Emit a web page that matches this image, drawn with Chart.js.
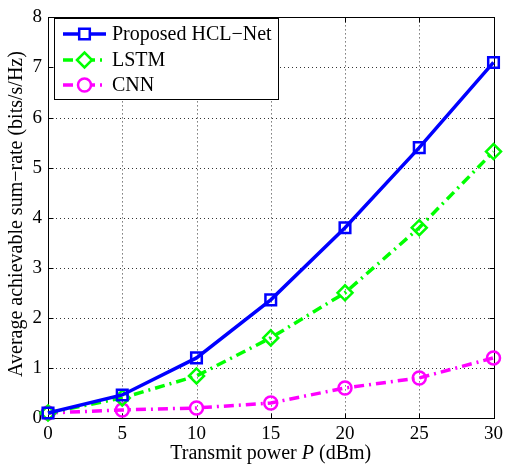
<!DOCTYPE html>
<html>
<head>
<meta charset="utf-8">
<script src="https://cdn.jsdelivr.net/npm/chart.js@4"></script>
<style>
  html, body { margin: 0; padding: 0; background: #fff; }
  #wrap { width: 508px; height: 466px; }
</style>
</head>
<body>
<div id="wrap"><canvas id="c" width="508" height="466"></canvas></div>
<script>
// Transmit power (dBm)
const powers = [0, 5, 10, 15, 20, 25, 30];
// Average achievable sum-rate (bits/s/Hz)
const hclNet = [0.1, 0.46, 1.2, 2.36, 3.8, 5.4, 7.1];
const lstm   = [0.1, 0.4, 0.84, 1.6, 2.5, 3.8, 5.32];
const cnn    = [0.1, 0.16, 0.2, 0.3, 0.6, 0.8, 1.2];
const seriesNames = ['Proposed HCL\u2212Net', 'LSTM', 'CNN'];
const xTicks = [0, 5, 10, 15, 20, 25, 30];
const yTicks = [0, 1, 2, 3, 4, 5, 6, 7, 8];

const FONT = '"Liberation Serif", "Times New Roman", serif';

function pts(ys) { return powers.map((p, i) => ({ x: p, y: ys[i] })); }

// Frame, dotted grid and inward tick marks
const framePlugin = {
  id: 'frame',
  beforeDatasetsDraw(chart) {
    const { ctx, chartArea: a, scales: { x, y } } = chart;
    ctx.save();
    ctx.strokeStyle = '#333';
    ctx.lineWidth = 1;
    ctx.setLineDash([1, 3]);
    xTicks.forEach(v => {
      if (v === 0 || v === 30) return;
      const px = Math.round(x.getPixelForValue(v)) + 0.5;
      ctx.beginPath(); ctx.moveTo(px, a.top); ctx.lineTo(px, a.bottom); ctx.stroke();
    });
    yTicks.forEach(v => {
      if (v === 0 || v === 8) return;
      const py = Math.round(y.getPixelForValue(v)) + 0.5;
      ctx.beginPath(); ctx.moveTo(a.left, py); ctx.lineTo(a.right, py); ctx.stroke();
    });
    ctx.setLineDash([]);
    ctx.strokeStyle = '#000';
    const L = Math.round(a.left) + 0.5, R = Math.round(a.right) + 0.5;
    const T = Math.round(a.top) + 0.5, B = Math.round(a.bottom) + 0.5;
    ctx.strokeRect(L, T, R - L, B - T);
    const tl = 5;
    xTicks.forEach(v => {
      const px = Math.round(x.getPixelForValue(v)) + 0.5;
      ctx.beginPath();
      ctx.moveTo(px, B); ctx.lineTo(px, B - tl);
      ctx.moveTo(px, T); ctx.lineTo(px, T + tl);
      ctx.stroke();
    });
    yTicks.forEach(v => {
      const py = Math.round(y.getPixelForValue(v)) + 0.5;
      ctx.beginPath();
      ctx.moveTo(L, py); ctx.lineTo(L + tl, py);
      ctx.moveTo(R, py); ctx.lineTo(R - tl, py);
      ctx.stroke();
    });
    ctx.restore();
  }
};

// Axis titles (x title has an italic P)
const titlesPlugin = {
  id: 'titles',
  afterDraw(chart) {
    const { ctx, chartArea: a } = chart;
    ctx.save();
    ctx.fillStyle = '#000';
    ctx.textBaseline = 'middle';
    const parts = [
      { t: 'Transmit power ', f: '20px ' + FONT },
      { t: 'P', f: 'italic 20px ' + FONT },
      { t: ' (dBm)', f: '20px ' + FONT }
    ];
    let w = 0;
    parts.forEach(p => { ctx.font = p.f; w += ctx.measureText(p.t).width; });
    let cx = (a.left + a.right) / 2 - w / 2;
    parts.forEach(p => {
      ctx.font = p.f; ctx.textAlign = 'left';
      ctx.fillText(p.t, cx, 454);
      cx += ctx.measureText(p.t).width;
    });
    ctx.translate(17, 214);
    ctx.rotate(-Math.PI / 2);
    ctx.font = '20px ' + FONT;
    ctx.textAlign = 'center';
    ctx.fillText('Average achievable sum\u2212rate (bits/s/Hz)', 0, 0);
    ctx.restore();
  }
};

// Boxed legend with line + marker samples
const legendPlugin = {
  id: 'boxLegend',
  afterDatasetsDraw(chart) {
    const { ctx } = chart;
    const bx = 54.5, by = 18.5, bw = 224, bh = 81;
    ctx.save();
    ctx.fillStyle = '#fff';
    ctx.fillRect(bx, by, bw, bh);
    ctx.strokeStyle = '#000';
    ctx.lineWidth = 1;
    ctx.strokeRect(bx, by, bw, bh);
    const rows = [34, 60, 85];
    chart.data.datasets.forEach((ds, i) => {
      const yy = rows[i];
      ctx.strokeStyle = ds.borderColor;
      ctx.lineWidth = ds.borderWidth;
      ctx.setLineDash(ds.borderDash || []);
      ctx.beginPath(); ctx.moveTo(63, yy); ctx.lineTo(106, yy); ctx.stroke();
      ctx.setLineDash([]);
      ctx.fillStyle = '#fff';
      ctx.lineWidth = ds.pointBorderWidth;
      ctx.strokeStyle = ds.borderColor;
      Chart.helpers.drawPoint(ctx, {
        pointStyle: ds.pointStyle, radius: ds.pointRadius, rotation: 0,
        borderWidth: ds.pointBorderWidth
      }, 84.5, yy);
      ctx.fillStyle = '#000';
      ctx.font = '20px ' + FONT;
      ctx.textAlign = 'left';
      ctx.textBaseline = 'middle';
      ctx.fillText(ds.label, 112, yy + 1);
    });
    ctx.restore();
  }
};

new Chart(document.getElementById('c'), {
  type: 'line',
  data: {
    datasets: [
      {
        label: seriesNames[0], data: pts(hclNet),
        borderColor: '#0000ff', borderWidth: 3.5, borderDash: [],
        pointStyle: 'rect', pointRadius: 7.5, pointBorderWidth: 2.5,
        pointBackgroundColor: 'rgba(0,0,0,0)', pointBorderColor: '#0000ff'
      },
      {
        label: seriesNames[1], data: pts(lstm),
        borderColor: '#00ff00', borderWidth: 3.5, borderDash: [10, 5, 2, 5],
        pointStyle: 'rectRot', pointRadius: 7.5, pointBorderWidth: 2.5,
        pointBackgroundColor: 'rgba(0,0,0,0)', pointBorderColor: '#00ff00'
      },
      {
        label: seriesNames[2], data: pts(cnn),
        borderColor: '#ff00ff', borderWidth: 3.5, borderDash: [10, 5, 2, 5],
        pointStyle: 'circle', pointRadius: 6.5, pointBorderWidth: 2.5,
        pointBackgroundColor: 'rgba(0,0,0,0)', pointBorderColor: '#ff00ff'
      }
    ]
  },
  options: {
    responsive: false,
    animation: false,
    clip: false,
    layout: { padding: { left: 0, right: 13, top: 13, bottom: 0 } },
    plugins: { legend: { display: false }, tooltip: { enabled: false } },
    elements: { line: { tension: 0 } },
    scales: {
      x: {
        type: 'linear', min: 0, max: 30,
        afterBuildTicks(s) { s.ticks = xTicks.map(v => ({ value: v })); },
        afterFit(s) { s.height = 48; },
        grid: { display: false, drawTicks: false },
        border: { display: false },
        ticks: { color: '#000', font: { family: FONT, size: 19 }, padding: 5, maxRotation: 0 }
      },
      y: {
        type: 'linear', min: 0, max: 8,
        afterBuildTicks(s) { s.ticks = yTicks.map(v => ({ value: v })); },
        afterFit(s) { s.width = 48; },
        grid: { display: false, drawTicks: false },
        border: { display: false },
        ticks: { color: '#000', font: { family: FONT, size: 19 }, padding: 6 }
      }
    }
  },
  plugins: [framePlugin, legendPlugin, titlesPlugin]
});
</script>
</body>
</html>
